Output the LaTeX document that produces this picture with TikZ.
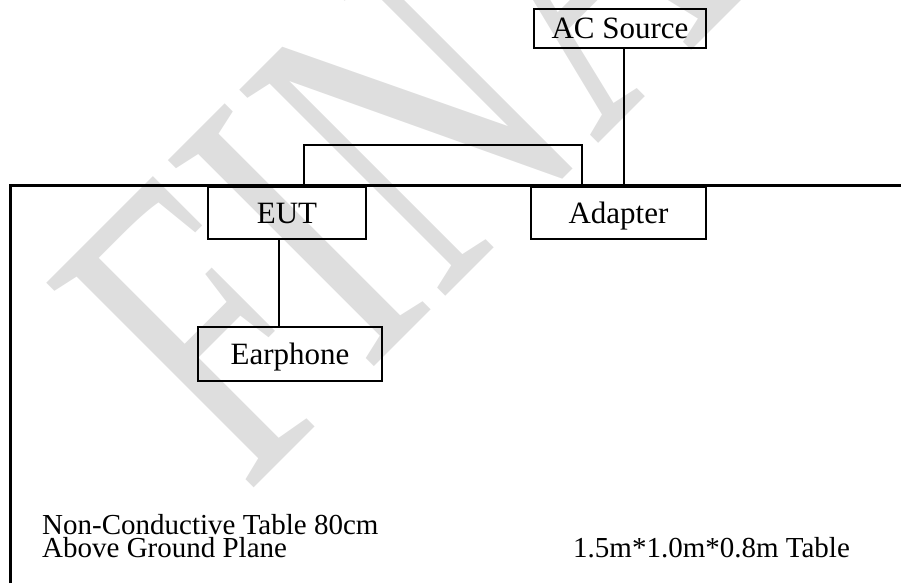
\documentclass[tikz,border=0pt]{standalone}
\usepackage{fontspec}
\setmainfont{Liberation Serif}
\usepackage{tikz}
\usetikzlibrary{calc,positioning}
\tikzstyle{unit}=[draw,line width=2pt,inner sep=0pt,font=\fontsize{31}{36}\selectfont,text height=20.5pt,text depth=0pt]
\tikzstyle{cable}=[line width=1.8pt]
\tikzstyle{tableedge}=[line width=3pt]
\tikzstyle{note}=[inner sep=0pt,font=\fontsize{29}{33}\selectfont]
\tikzstyle{watermark}=[inner sep=0pt,text=black!13,font=\fontsize{445}{445}\selectfont]

\begin{document}
\begin{tikzpicture}[x=1pt,y=-1pt]
  \useasboundingbox (0,0) rectangle (901,583);
  % watermark
  \node[watermark, rotate=45, xscale=0.69] (wm) at (462,72) {FINAL};

  % table outline
  \coordinate (tl) at (10,185);
  \coordinate (tr) at (901,185);
  \coordinate (bl) at (10,583);
  \draw[tableedge] (bl) -- (tl) -- (tr);

  \node[unit, minimum width=172pt, minimum height=39pt] (acsrc) at (620,28.5) {AC Source};
  \node[unit, minimum width=158pt, minimum height=52pt] (eut) at (287,213) {EUT};
  \node[unit, minimum width=175pt, minimum height=52pt] (adapter) at (618.5,213) {Adapter};
  \node[unit, minimum width=184pt, minimum height=54pt, below = 86pt of eut, xshift=3pt] (earphone) {Earphone};

  \draw[cable] ([xshift=4pt]acsrc.south) -- ([xshift=4pt]acsrc.south |- tl);
  \draw[cable] ([xshift=17pt]eut.north) -- ++(0,-41) -| ([xshift=-36.5pt]adapter.north);
  \draw[cable] ([xshift=-8pt]eut.south) -- ([xshift=-8pt]eut.south |- earphone.north);

  \node[note, anchor=base west] (note1) at (42,534) {Non-Conductive Table 80cm};
  \node[note, anchor=base west] (note2) at (42,557) {Above Ground Plane};
  \node[note, anchor=base west] (size) at (573,557) {1.5m*1.0m*0.8m Table};
\end{tikzpicture}
\end{document}
